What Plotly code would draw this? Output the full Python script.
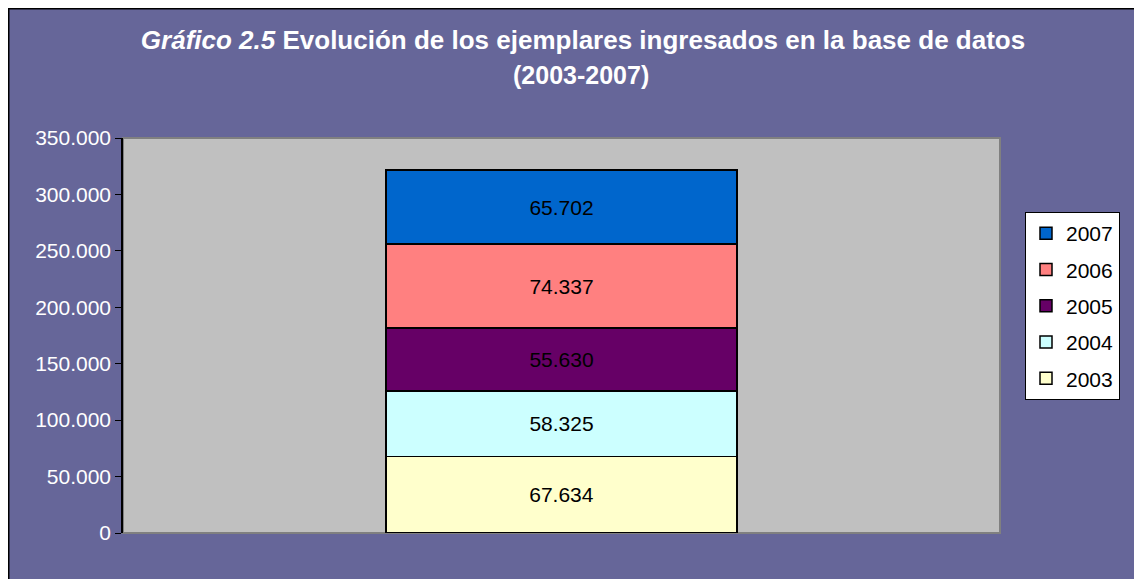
import plotly.graph_objects as go

category = [""]
years = ["2003", "2004", "2005", "2006", "2007"]
values = [67634, 58325, 55630, 74337, 65702]
colors = ["#FFFFCC", "#CCFFFF", "#660066", "#FF8080", "#0066CC"]
yticks = [0, 50000, 100000, 150000, 200000, 250000, 300000, 350000]

FONT = "Liberation Sans, Arial, sans-serif"
PURPLE = "#666699"

fig = go.Figure()
for i, (yr, v, c) in enumerate(zip(years, values, colors)):
    fig.add_trace(go.Bar(
        x=category, y=[v], name=yr, legendgroup=yr,
        legendrank=1000 - i * 10,
        marker=dict(color=c, line=dict(color="black", width=1.5)),
        width=0.4,
        texttemplate="%{y:,.0f}", textposition="inside",
        insidetextanchor="middle", constraintext="none",
        textfont=dict(color="black", size=21, family=FONT),
        hoverinfo="skip",
    ))

# page is offset by the 8px body margin
OFF = 8
W, H = 1142 - OFF, 579 - OFF
L, R, T, B = 123 - OFF, W - (1000 - OFF), 138 - OFF, H - (533 - OFF)
pw, ph = W - L - R, H - T - B

def px(x):
    return (x - OFF - L) / pw

def py(y):
    return (H - B - (y - OFF)) / ph

fig.update_layout(
    width=W, height=H,
    margin=dict(l=L, r=R, t=T, b=B, autoexpand=False),
    paper_bgcolor=PURPLE,
    plot_bgcolor="#C0C0C0",
    barmode="stack",
    separators=",.",
    font=dict(family=FONT, color="white", size=21),
    title=dict(
        text="<i>Gráfico 2.5</i> Evolución de los ejemplares ingresados en la base de datos",
        font=dict(family=FONT, size=26, color="white", weight="bold"),
        x=(583 - OFF) / W, xanchor="center", xref="container",
        y=1 - (40 - OFF) / H, yanchor="middle", yref="container",
    ),
    xaxis=dict(showticklabels=False, showgrid=False, zeroline=False,
               range=[-0.5, 0.5], fixedrange=True),
    yaxis=dict(range=[0, 350000], tickvals=yticks, tickformat=",.0f",
               showgrid=False, zeroline=False,
               showline=True, linecolor="black", linewidth=1.5,
               ticks="outside", ticklen=6, tickcolor="black", tickwidth=1,
               tickfont=dict(color="white", size=21, family=FONT)),
    legend=dict(
        x=px(1025), y=py(212), xanchor="left", yanchor="top",
        bgcolor="white", bordercolor="black", borderwidth=1,
        font=dict(color="black", size=21, family=FONT),
        traceorder="grouped", tracegroupgap=6,
        itemwidth=30,
    ),
    shapes=[
        dict(type="rect", xref="paper", yref="paper", layer="below",
             x0=px(8.5), x1=px(1142 + 60), y0=py(579 + 60), y1=py(8.5),
             fillcolor=PURPLE, line=dict(color="black", width=2)),
        dict(type="rect", xref="paper", yref="paper", layer="below",
             x0=0, x1=1, y0=0, y1=1,
             fillcolor="#C0C0C0", line=dict(color="#808080", width=2)),
    ],
    annotations=[
        dict(text="<b>(2003-2007)</b>", xref="paper", yref="paper",
             x=px(581), y=py(75), xanchor="center", yanchor="middle",
             showarrow=False, font=dict(family=FONT, size=25, color="white")),
    ],
)

fig.write_html("out.html")
